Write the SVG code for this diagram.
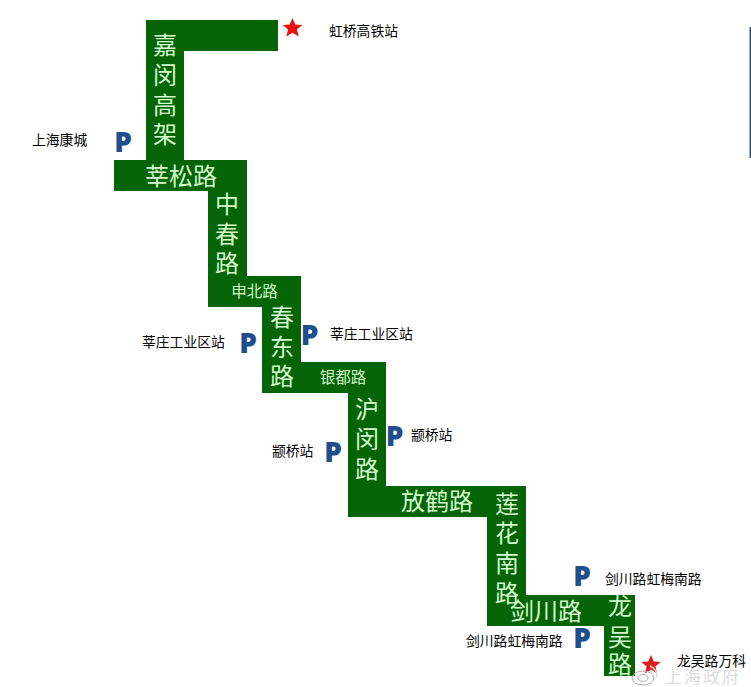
<svg xmlns="http://www.w3.org/2000/svg" width="751" height="687" viewBox="0 0 751 687">
<style>
text{font-family:"Noto Sans CJK SC","Liberation Sans",sans-serif}
.r{fill:#d2fbcc;font-size:24px;text-anchor:middle;font-weight:400}
.s{fill:#d2fbcc;font-size:15.500px;text-anchor:middle;font-weight:400}
.l{fill:#000;font-size:13.800px}
.p{fill:#1f4e8c;font-family:"Open Sans","Liberation Sans",sans-serif;font-weight:800;font-size:28px;text-anchor:middle}
</style>
<defs>
<polygon id="star" points="0,-10 2.800,-3.600 9.800,-3.100 4.400,1.500 6.200,8.600 0,4.800 -6.200,8.600 -4.400,1.500 -9.800,-3.100 -2.800,-3.600"/>
</defs>
<rect width="751" height="687" fill="#fff"/>
<g id="connectors"></g>
<g id="route"><polygon fill="#056405" points="146,20 278,20 278,51 184,51 184,160 247,160 247,276 301,276 301,362 386,362 386,486 526,486 526,595 635,595 635,676 604,676 604,626 487,626 487,517 348,517 348,393 262,393 262,307 208,307 208,191 114,191 114,160 146,160"/></g>
<g id="road-jiamin"><text class="r" x="165" y="54">嘉</text><text class="r" x="165" y="84">闵</text><text class="r" x="165" y="114">高</text><text class="r" x="165" y="143">架</text></g>
<g id="road-xinsong"><text class="r" x="181" y="185">莘松路</text></g>
<g id="road-zhongchun"><text class="r" x="227" y="213">中</text><text class="r" x="227" y="243">春</text><text class="r" x="227" y="272">路</text></g>
<g id="road-shenbei"><text class="s" x="254.500" y="297">申北路</text></g>
<g id="road-chundong"><text class="r" x="282" y="326">春</text><text class="r" x="282" y="356">东</text><text class="r" x="282" y="385">路</text></g>
<g id="road-yindu"><text class="s" x="343" y="383">银都路</text></g>
<g id="road-humin"><text class="r" x="367" y="418">沪</text><text class="r" x="367" y="448">闵</text><text class="r" x="367" y="478">路</text></g>
<g id="road-fanghe"><text class="r" x="437" y="510">放鹤路</text></g>
<g id="road-lianhuanan"><text class="r" x="507" y="513">莲</text><text class="r" x="507" y="542">花</text><text class="r" x="507" y="572">南</text><text class="r" x="507" y="602">路</text></g>
<g id="road-jianchuan"><text class="r" x="546" y="620">剑川路</text></g>
<g id="road-longwu"><text class="r" x="620" y="615">龙</text><text class="r" x="620" y="646">吴</text><text class="r" x="620" y="673">路</text></g>
<g id="start"><use href="#star" x="292.500" y="28" fill="#ee1111"/><text class="l" x="329" y="36">虹桥高铁站</text></g>
<g id="end"><use href="#star" x="651" y="665" fill="#dd1f1f"/><text class="l" x="677" y="666">龙吴路万科</text></g>
<g id="p-kangcheng"><text class="l" x="32" y="145">上海康城</text><text class="p" x="123" y="152">P</text></g>
<g id="p-xinzhuang-w"><text class="l" x="142" y="347">莘庄工业区站</text><text class="p" x="248" y="353">P</text></g>
<g id="p-xinzhuang-e"><text class="p" x="309.500" y="345">P</text><text class="l" x="330" y="339">莘庄工业区站</text></g>
<g id="p-zhuanqiao-w"><text class="l" x="272" y="456">颛桥站</text><text class="p" x="333" y="462">P</text></g>
<g id="p-zhuanqiao-e"><text class="p" x="394.500" y="446">P</text><text class="l" x="411" y="440">颛桥站</text></g>
<g id="p-jianchuan-n"><text class="p" x="582" y="586">P</text><text class="l" x="605" y="584">剑川路虹梅南路</text></g>
<g id="p-jianchuan-s"><text class="l" x="466" y="646">剑川路虹梅南路</text><text class="p" x="582" y="648">P</text></g>
<g id="edge"><rect x="749.500" y="27" width="1.500" height="131" fill="#3a5070"/></g>
<g id="watermark"><ellipse cx="643" cy="678" rx="11" ry="7" fill="none" stroke="#aaa" stroke-width="1"/><ellipse cx="643" cy="678" rx="5" ry="3.500" fill="none" stroke="#aaa" stroke-width="1"/><path d="M650 666a12 12 0 0 1 7 11M650 671a7 7 0 0 1 3 6" fill="none" stroke="#e8d8d0" stroke-width="1.500"/><text x="665" y="683" font-size="17" letter-spacing="2" fill="#dcdcdc">上海政府</text></g>
</svg>
